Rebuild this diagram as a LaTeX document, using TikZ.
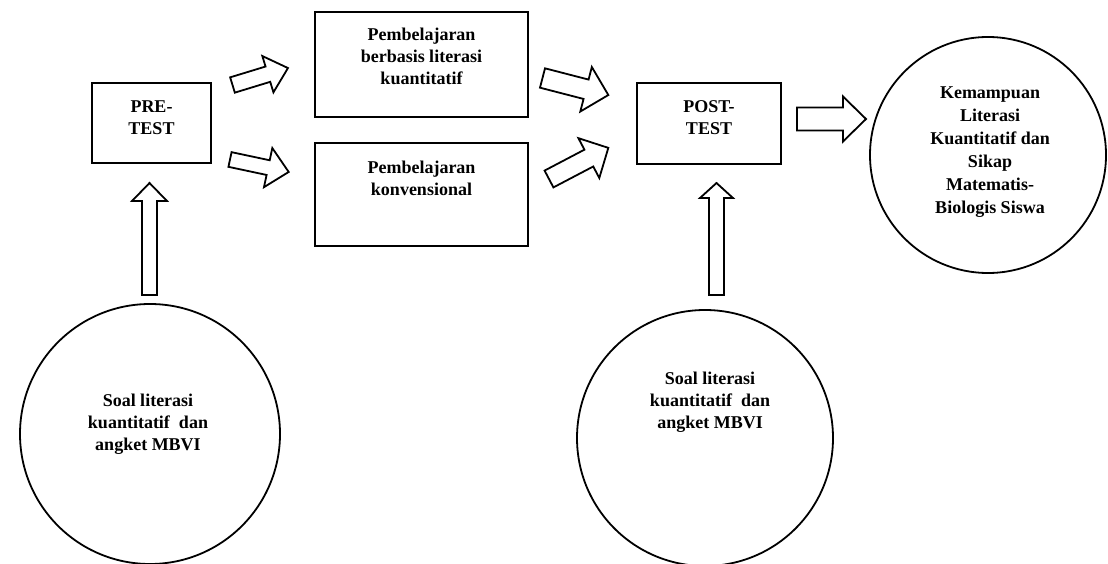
\documentclass[tikz,border=0pt]{standalone}
\usepackage{fontspec}
\setmainfont{Liberation Serif}
\begin{document}
\begin{tikzpicture}[x=1pt,y=-1pt,
  boxst/.style={draw, line width=2pt, rectangle, inner sep=0pt},
  circst/.style={draw, line width=1.8pt, circle, inner sep=0pt},
  txt/.style={align=center, font=\fontsize{18}{22}\selectfont\bfseries, inner sep=0pt},
  txtc/.style={align=center, font=\fontsize{18}{23}\selectfont\bfseries, inner sep=0pt},
  barrow/.style={draw, line width=1.8pt, fill=white, line join=miter}]
\useasboundingbox (0,0) rectangle (1108,564);
% macro: #1 start, #2 angle, #3 length, #4 shaft w, #5 head w, #6 head len
\newcommand\myblockarrow[6]{%
  \begin{scope}[shift={#1}, rotate=#2]
    \draw[barrow] (0,-#4/2) -- (#3-#6,-#4/2) -- (#3-#6,-#5/2) -- (#3,0)
      -- (#3-#6,#5/2) -- (#3-#6,#4/2) -- (0,#4/2) -- cycle;
  \end{scope}}
% boxes
\node[boxst, minimum width=119pt, minimum height=80pt] (pre) at (151.5,123) {};
\node[txt] (pretxt) at (151.5,118) {PRE-\\TEST};
\node[boxst, minimum width=213pt, minimum height=105pt] (pk) at (421.5,64.5) {};
\node[txt] (pktxt) at (421.5,56) {Pembelajaran\\berbasis literasi\\kuantitatif};
\node[boxst, minimum width=213pt, minimum height=103pt] (pkv) at (421.5,194.5) {};
\node[txt] (pkvtxt) at (421.5,178) {Pembelajaran\\konvensional};
\node[boxst, minimum width=144pt, minimum height=81pt] (post) at (709,123.5) {};
\node[txt] (posttxt) at (709,117.5) {POST-\\TEST};
% circles
\node[circst, minimum size=236pt] (hasil) at (988,155) {};
\node[txtc] (hasiltxt) at (990,152) {Kemampuan\\Literasi\\Kuantitatif dan\\Sikap\\Matematis-\\Biologis Siswa};
\node[circst, minimum size=260pt] (soal1) at (150,434) {};
\node[txt] (soal1txt) at (148,424) {Soal literasi\\kuantitatif\ \ dan\\angket MBVI};
\node[circst, minimum size=256pt] (soal2) at (705,438) {};
\node[txt] (soal2txt) at (710,402) {Soal literasi\\kuantitatif\ \ dan\\angket MBVI};
% block arrows
\myblockarrow{(232.5,85)}{17}{58}{16}{38}{21}
\myblockarrow{(230,159.5)}{-12}{60}{15}{40}{21}
\myblockarrow{(542.5,78)}{-14.5}{68}{20}{46}{23}
\myblockarrow{(549,179)}{27.7}{67}{19}{45}{22}
\myblockarrow{(797,119)}{0}{69}{23}{45}{23}
\myblockarrow{(149.5,295)}{90}{112}{15}{35}{18}
\myblockarrow{(716.5,295)}{90}{112}{15}{33}{15}
\end{tikzpicture}
\end{document}
